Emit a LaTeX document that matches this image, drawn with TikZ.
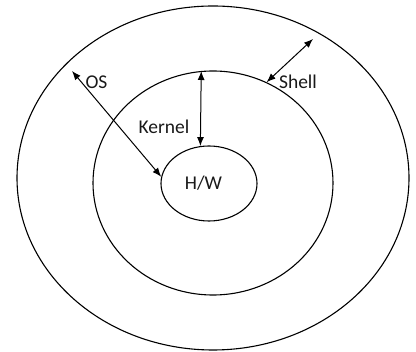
\documentclass[tikz,border=0pt]{standalone}
\usepackage{fontspec}
\setmainfont{Carlito}
\usetikzlibrary{shapes.geometric,arrows.meta}
\begin{document}
\begin{tikzpicture}[x=1pt,y=-1pt,
  ring/.style={draw=black,line width=1.1pt,ellipse,inner sep=0pt},
  link/.style={line width=1pt,{Latex[length=9pt,width=7pt]}-{Latex[length=9pt,width=7pt]}},
  lbl/.style={inner sep=0pt,text=black!90,font=\fontsize{19.5}{22}\selectfont}]
\useasboundingbox (0,0) rectangle (416,352);
% three nested layers
\node[ring,minimum width=392pt,minimum height=344pt] (os) at (213,178) {};
\node[ring,minimum width=240pt,minimum height=224pt] (kern) at (213,183) {};
\node[ring,minimum width=96pt,minimum height=75pt] (hw) at (209,183.5) {};
% free ends of the outer arrows
\coordinate (osend) at (72,71);
\coordinate (shellend) at (313,39);
% arrows between layers
\draw[link] (kern.96.7) -- (hw.103.7);
\draw[link] (osend) -- (hw.172.2);
\draw[link] (kern.62.7) -- (shellend);
% labels
\node[lbl] (oslbl) at (96.5,82) {OS};
\node[lbl] (kernlbl) at (164,127) {Kernel};
\node[lbl] (hwlbl) at (203.5,183) {H/W};
\node[lbl] (shelllbl) at (298,82) {Shell};
\end{tikzpicture}
\end{document}
